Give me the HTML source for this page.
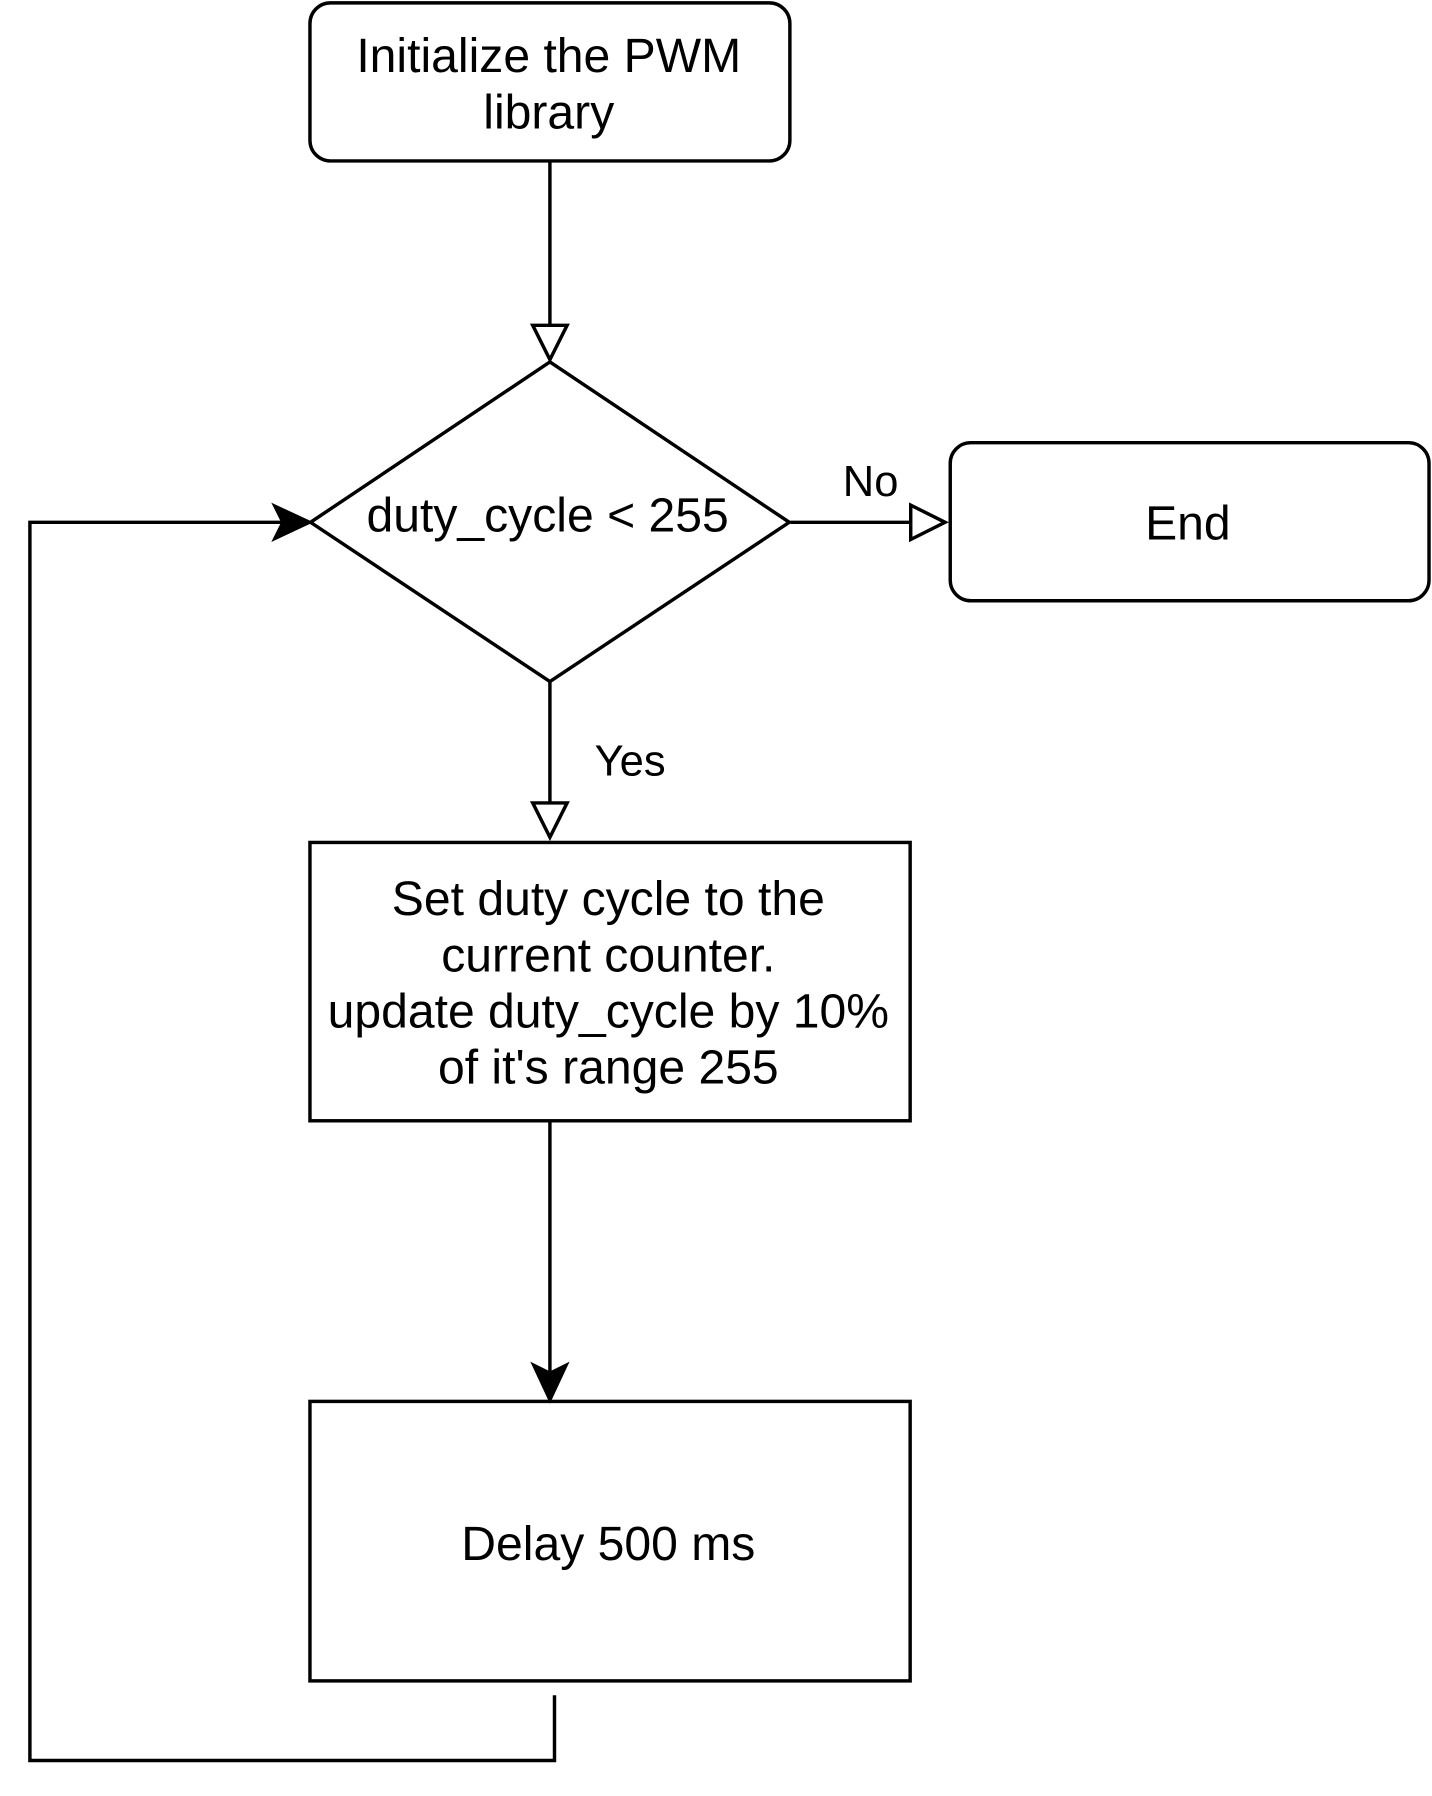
<!DOCTYPE html>
<html><head><style>html,body{margin:0;padding:0;background:#fff}svg{display:block}</style></head>
<body>
<svg width="1432" height="1796" viewBox="0 0 1250 1568" xmlns="http://www.w3.org/2000/svg" font-family="Liberation Sans, sans-serif" font-size="42" fill="none" stroke="#000" stroke-width="3">
<rect x="270.5" y="2.5" width="419" height="138" rx="18"/>
<path d="M480 141V284"/>
<path d="M465 284L495 284L480 314Z" fill="#fff"/>
<path d="M480 316L689 456L480 595L271 456Z" fill="#fff"/>
<path d="M690 456H795"/>
<path d="M795 441L825 456L795 471Z" fill="#fff"/>
<rect x="829.5" y="386.5" width="418" height="138" rx="18"/>
<path d="M480 595V701"/>
<path d="M465 701L495 701L480 731Z" fill="#fff"/>
<rect x="270.5" y="735.5" width="524" height="243"/>
<path d="M480 979V1200"/>
<path d="M466 1192L480 1222L494 1192L480 1199Z" fill="#000"/>
<rect x="270.5" y="1223.5" width="524" height="244"/>
<path d="M484 1480V1537H26V456H248"/>
<path d="M240 442L270 456L240 470L247 456Z" fill="#000"/>
<g fill="#000" stroke="none" text-anchor="middle">
<text x="479" y="63">Initialize the PWM</text>
<text x="479" y="112">library</text>
<text x="478" y="464">duty_cycle &lt; 255</text>
<text x="760" y="433" font-size="38">No</text>
<text x="1037" y="471">End</text>
<text x="550" y="677" font-size="38">Yes</text>
<text x="531" y="799">Set duty cycle to the</text>
<text x="531" y="848">current counter.</text>
<text x="531" y="897">update duty_cycle by 10%</text>
<text x="531" y="946">of it's range 255</text>
<text x="531" y="1362">Delay 500 ms</text>
</g>
</svg>
</body></html>
